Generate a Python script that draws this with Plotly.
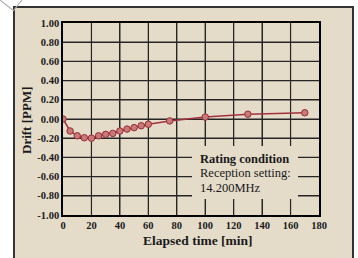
import plotly.graph_objects as go

elapsed_min = [0, 5, 10, 15, 20, 25, 30, 35, 40, 45, 50, 55, 60, 75, 100, 130, 170]
drift_ppm = [0.0, -0.125, -0.175, -0.195, -0.2, -0.175, -0.16, -0.15, -0.125, -0.105,
             -0.09, -0.07, -0.055, -0.02, 0.02, 0.05, 0.065]

x_ticks = [0, 20, 40, 60, 80, 100, 120, 140, 160, 180]
y_ticks = [1.0, 0.8, 0.6, 0.4, 0.2, 0.0, -0.2, -0.4, -0.6, -0.8, -1.0]
y_labels = ["1.00", "0.80", "0.60", "0.40", "0.20", "0.00",
            "-0.20", "-0.40", "-0.60", "-0.80", "-1.00"]

W, H = 358, 258
ML, MR, MT, MB = 63, 39, 23, 43
PW, PH = W - ML - MR, H - MT - MB


def px(xp):
    return (xp - ML) / PW


def py(yp):
    return (H - MB - yp) / PH


BEIGE = "#e4dbc9"
FONT = "Liberation Serif"
GRID = "#262626"

x_lo, x_hi = x_ticks[0], x_ticks[-1]
y_lo, y_hi = min(y_ticks), max(y_ticks)

# grid drawn from the tick arrays through the axes
gx, gy = [], []
for xv in x_ticks[1:-1]:
    gx += [xv, xv, None]
    gy += [y_lo, y_hi, None]
for yv in y_ticks[1:-1]:
    gx += [x_lo, x_hi, None]
    gy += [yv, yv, None]

fig = go.Figure()
fig.add_trace(go.Scatter(x=gx, y=gy, mode="lines", line=dict(color=GRID, width=1.2),
                         hoverinfo="skip", showlegend=False))
fig.add_trace(go.Scatter(
    x=elapsed_min, y=drift_ppm, mode="lines+markers",
    line=dict(color="#a3303d", width=1.5),
    marker=dict(size=6.5, color="#c77a7a", line=dict(color="#9b2b35", width=1)),
    showlegend=False,
))

white = dict(color="white", width=0)
shapes = [
    dict(type="rect", xref="paper", yref="paper", x0=px(0), x1=px(W), y0=py(7), y1=py(0),
         fillcolor="white", line=white, layer="above"),
    dict(type="rect", xref="paper", yref="paper", x0=px(0), x1=px(14), y0=py(H), y1=py(0),
         fillcolor="white", line=white, layer="above"),
    dict(type="rect", xref="paper", yref="paper", x0=px(353), x1=px(W), y0=py(H), y1=py(0),
         fillcolor="white", line=white, layer="above"),
    dict(type="rect", xref="paper", yref="paper", x0=px(14), x1=px(353), y0=py(270), y1=py(7),
         line=dict(color="#333333", width=2), layer="above"),
    dict(type="line", xref="paper", yref="paper", x0=px(0), y0=py(0), x1=px(14), y1=py(11),
         line=dict(color="#b0b0b0", width=1.2), layer="above"),
    dict(type="line", xref="paper", yref="paper", x0=px(22), y0=py(0), x1=px(14), y1=py(10),
         line=dict(color="#b0b0b0", width=1.2), layer="above"),
    dict(type="rect", xref="paper", yref="paper", x0=px(192), x1=px(298), y0=py(199), y1=py(146),
         fillcolor=BEIGE, line=dict(width=0), layer="above"),
]

annotations = [
    dict(xref="paper", yref="paper", x=px(198), y=py(159), text="<b>Rating condition</b>",
         showarrow=False, xanchor="left", yanchor="middle",
         font=dict(family=FONT, size=12.5, color="#1a1a1a")),
    dict(xref="paper", yref="paper", x=px(198), y=py(173), text="Reception setting:",
         showarrow=False, xanchor="left", yanchor="middle",
         font=dict(family=FONT, size=12.5, color="#1a1a1a")),
    dict(xref="paper", yref="paper", x=px(198), y=py(188), text="14.200MHz",
         showarrow=False, xanchor="left", yanchor="middle",
         font=dict(family=FONT, size=12.5, color="#1a1a1a")),
    dict(xref="paper", yref="paper", x=px(198), y=py(240), text="<b>Elapsed time [min]</b>",
         showarrow=False, xanchor="center", yanchor="middle",
         font=dict(family=FONT, size=13.5, color="#1a1a1a")),
    dict(xref="paper", yref="paper", x=px(27), y=py(120), text="<b>Drift [PPM]</b>",
         showarrow=False, xanchor="center", yanchor="middle", textangle=-90,
         font=dict(family=FONT, size=13, color="#1a1a1a")),
]

fig.update_layout(
    width=W, height=H,
    margin=dict(l=ML, r=MR, t=MT, b=MB, pad=0),
    paper_bgcolor=BEIGE, plot_bgcolor=BEIGE,
    shapes=shapes, annotations=annotations,
    font=dict(family=FONT),
)
fig.update_xaxes(range=[x_lo, x_hi], tickvals=x_ticks, ticktext=[str(v) for v in x_ticks])
fig.update_yaxes(range=[y_lo, y_hi], tickvals=y_ticks, ticktext=y_labels)
for upd in (fig.update_xaxes, fig.update_yaxes):
    upd(showgrid=True, gridcolor=GRID, gridwidth=1.2)
    upd(showline=True, mirror=True, linecolor="black", linewidth=1.5, ticks="",
        zeroline=False, tickfont=dict(family=FONT, size=10.5, color="#1a1a1a", weight="bold"))

fig.write_html("out.html", config={"displayModeBar": False},
               post_script="document.body.style.margin='0';")
